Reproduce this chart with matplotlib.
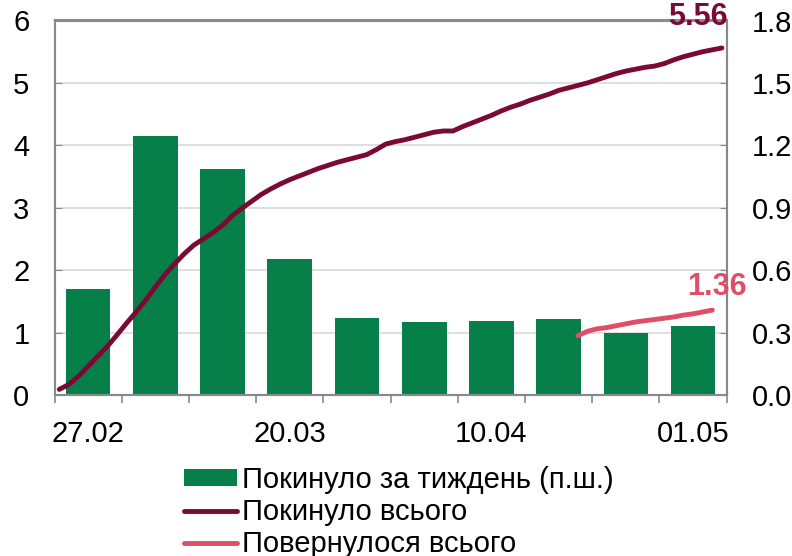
import numpy as np
import matplotlib
matplotlib.use('Agg')
import matplotlib.pyplot as plt
from matplotlib.ticker import FixedLocator, NullFormatter

plt.rcParams['font.family'] = ['Liberation Sans', 'DejaVu Sans']

# Тижні (категорії) та стовпчики, млн осіб (права шкала)
tyzhni = ['27.02', '06.03', '13.03', '20.03', '27.03',
          '03.04', '10.04', '17.04', '24.04', '01.05']
za_tyzhden = [0.51, 1.245, 1.085, 0.652, 0.369, 0.351, 0.356, 0.364, 0.300, 0.332]

# Щоденні ряди (дні від 21.02), млн осіб (ліва шкала)
dni_vsogo = np.arange(0, 70)
pokynulo_vsogo = [0.09, 0.17, 0.30, 0.46, 0.62, 0.78, 0.96, 1.15, 1.33, 1.52,
                  1.73, 1.93, 2.10, 2.26, 2.40, 2.50, 2.60, 2.72, 2.87, 2.99,
                  3.10, 3.21, 3.30, 3.38, 3.45, 3.51, 3.57, 3.63, 3.68, 3.73,
                  3.77, 3.81, 3.85, 3.93, 4.02, 4.06, 4.09, 4.13, 4.17, 4.21,
                  4.23, 4.23, 4.30, 4.36, 4.42, 4.48, 4.55, 4.61, 4.66, 4.72,
                  4.77, 4.82, 4.88, 4.92, 4.96, 5.00, 5.05, 5.10, 5.15, 5.19,
                  5.22, 5.25, 5.27, 5.31, 5.37, 5.42, 5.46, 5.50, 5.53, 5.56]

dni_povern = np.arange(54, 69)
povernulos_vsogo = [0.95, 1.02, 1.06, 1.08, 1.11, 1.14, 1.17, 1.19, 1.21, 1.23,
                    1.25, 1.28, 1.30, 1.33, 1.36]

c_bar = '#077F48'
c_out = '#7A0A33'
c_back = '#DE4E66'
c_frame = '#898989'
c_grid = '#D9D9D9'

fig = plt.figure(figsize=(7.92, 5.56), dpi=100)
ax = fig.add_axes([54.5/792, 1-395/556, (726.7-54.5)/792, (395-20.5)/556])
ax2 = ax.twinx()

xb = np.arange(len(tyzhni))
bars = ax.bar(xb, za_tyzhden, width=0.665, color=c_bar, zorder=2,
              label='Покинуло за тиждень (п.ш.)')

def den_x(d):
    return (np.asarray(d) + 0.5) / 7 - 0.5

l1, = ax2.plot(den_x(dni_vsogo), pokynulo_vsogo, color=c_out, lw=3.5,
               solid_capstyle='round', label='Покинуло всього')
l2, = ax2.plot(den_x(dni_povern), povernulos_vsogo, color=c_back, lw=3.5,
               solid_capstyle='round', label='Повернулося всього')

ax2.annotate('5.56', (den_x(69), 5.56), xytext=(-24, 31), textcoords='offset pixels',
             ha='center', va='center', fontsize=22, fontweight='bold', color=c_out,
             annotation_clip=False)
ax2.annotate('1.36', (den_x(68), 1.36), xytext=(5, 23), textcoords='offset pixels',
             ha='center', va='center', fontsize=22, fontweight='bold', color=c_back,
             annotation_clip=False)

ax.set_xlim(-0.5, 9.5)
ax.set_ylim(0, 1.8)
ax2.set_ylim(0, 6)

# права шкала - стовпчики
ax.yaxis.tick_right()
ax.set_yticks(np.arange(0, 1.81, 0.3))
ax.set_yticklabels(['%.1f' % v for v in np.arange(0, 1.81, 0.3)])
ax.tick_params(axis='y', direction='in', length=5, color=c_frame, pad=18,
               labelsize=21, right=True, left=False)
# ліва шкала - лінії
ax2.yaxis.tick_left()
ax2.set_yticks(range(0, 7))
ax2.tick_params(axis='y', direction='in', length=5, color=c_frame, pad=18,
                labelsize=21, left=True, right=False)

ax.yaxis.grid(True, color=c_grid, lw=1.2, zorder=0)
ax.set_axisbelow(True)

ax.xaxis.set_major_locator(FixedLocator(np.arange(-0.5, 10, 1)))
ax.xaxis.set_major_formatter(NullFormatter())
ax.xaxis.set_minor_locator(FixedLocator(xb[::3]))
ax.set_xticklabels([tyzhni[i] for i in xb[::3]], minor=True)
ax.tick_params(axis='x', which='major', direction='out', length=6, color=c_frame, width=1.2)
ax.tick_params(axis='x', which='minor', length=0, pad=18, labelsize=21)

for a in (ax, ax2):
    for s in a.spines.values():
        s.set_color(c_frame)
        s.set_linewidth(1.5)

fig.legend(handles=[bars, l1, l2], loc='upper left',
           bbox_to_anchor=(184/792, 1-466/556), frameon=False, fontsize=21,
           handlelength=1.8, handleheight=0.5, handletextpad=0.2,
           labelspacing=0.14, borderpad=0, borderaxespad=0)

fig.savefig('out.png', dpi=100)
